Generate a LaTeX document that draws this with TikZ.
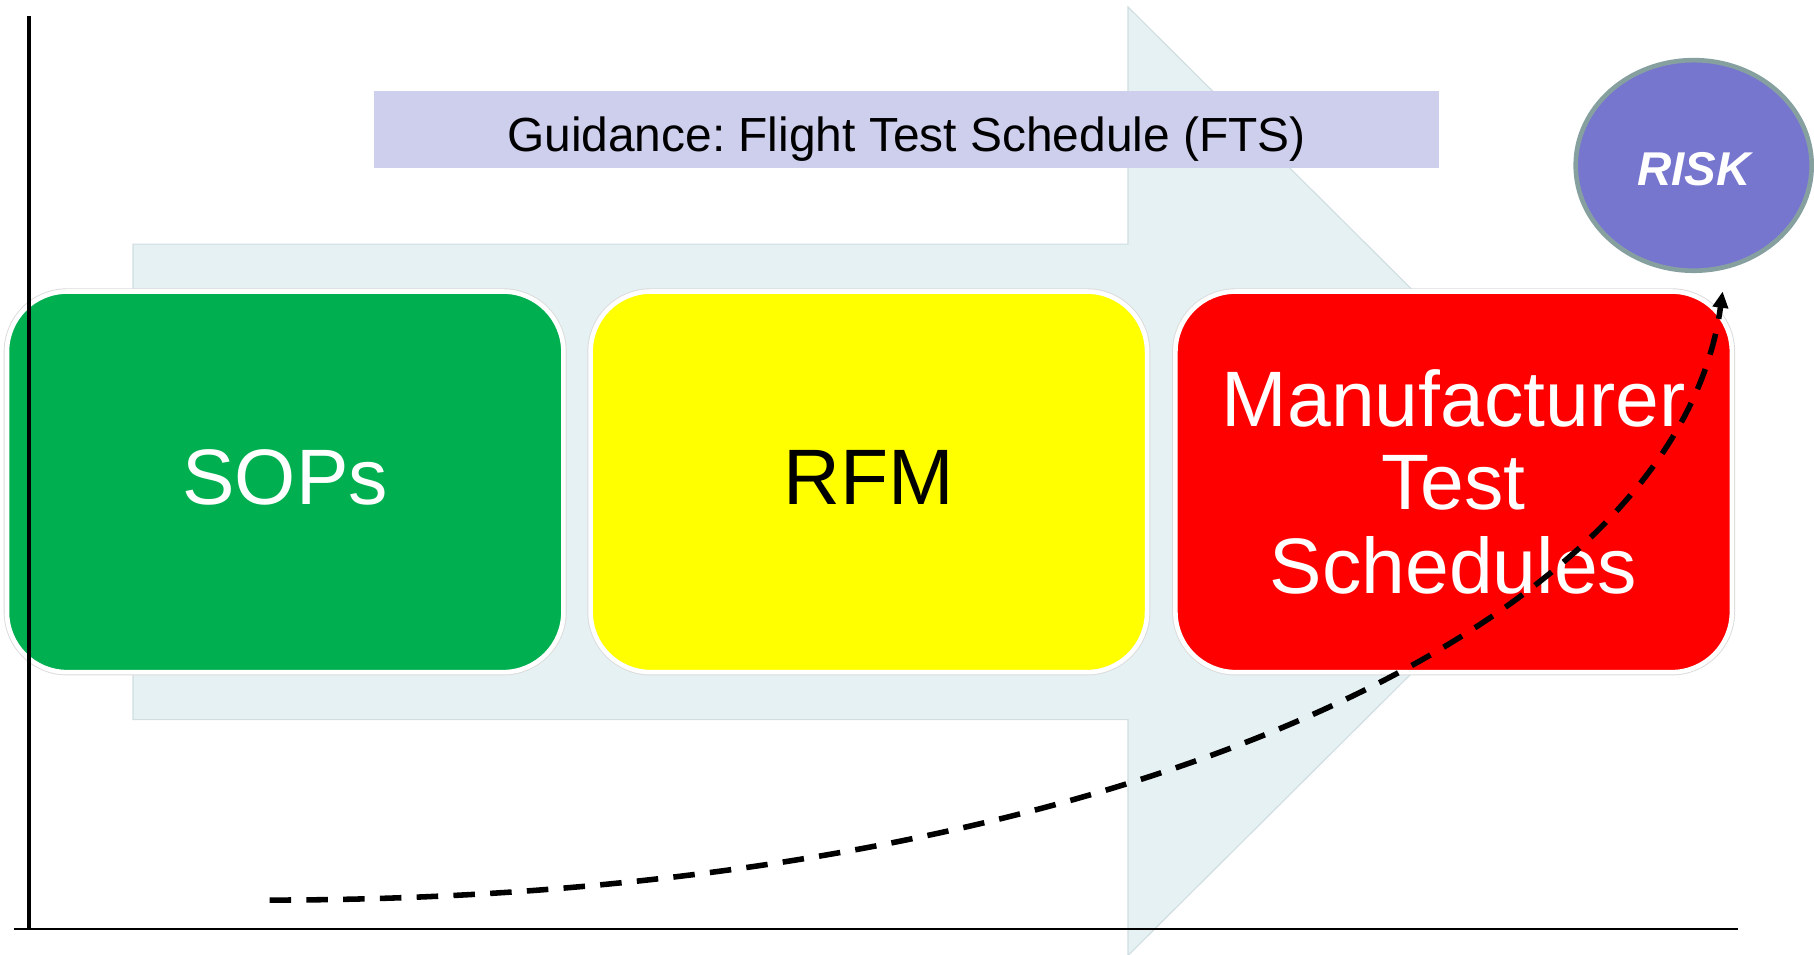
\documentclass[tikz,border=0pt]{standalone}
\usepackage{fontspec}
\setmainfont{Liberation Sans}
\usetikzlibrary{shapes.geometric,arrows.meta}
\frenchspacing

\definecolor{arrowfill}{RGB}{230,241,243}
\definecolor{arrowedge}{RGB}{208,222,226}
\definecolor{bannerfill}{RGB}{206,206,237}
\definecolor{sopgreen}{RGB}{0,175,80}
\definecolor{rfmyellow}{RGB}{255,255,0}
\definecolor{mtsred}{RGB}{255,0,0}
\definecolor{riskfill}{RGB}{119,118,207}
\definecolor{riskedge}{RGB}{134,160,160}

\begin{document}
\begin{tikzpicture}[x=0.5pt,y=-0.5pt,
  stagebox/.style={rectangle, rounded corners=26pt, inner sep=0pt,
    minimum width=240.5pt, minimum height=164.5pt,
    draw=white, line width=2pt,
    preaction={draw=black!14, line width=2.8pt},
    font=\fontsize{34}{36}\selectfont, align=center},
  oneline/.style={text height=24pt, text depth=4pt},
  banner/.style={rectangle, fill=bannerfill, inner sep=0pt,
    minimum width=460pt, minimum height=33pt},
  bannertext/.style={font=\fontsize{20.7}{24}\selectfont, inner sep=0pt},
  riskblob/.style={ellipse, fill=riskfill, draw=riskedge, line width=2pt,
    inner sep=0pt, minimum width=102pt, minimum height=91pt,
    text=white, font=\fontsize{20.5}{24}\selectfont\bfseries\itshape,
    text height=17pt, text depth=0pt},
  axisline/.style={draw=black, line width=0.9pt},
  riskcurve/.style={draw=black, line width=2.4pt,
    dash pattern=on 9.3pt off 6.6pt,
    -{Triangle[length=7pt,width=6.5pt]}}
]
\useasboundingbox (0,0) rectangle (1568,825);

% broad process arrow in the background
\path[fill=arrowfill, draw=arrowedge, line width=0.5pt]
  (115,211) -- (975,211) -- (975,6) -- (1387,416) -- (975,826)
  -- (975,622) -- (115,622) -- cycle;

% guidance banner
\node[banner] (guide) at (783.5,112) {};
\node[bannertext, anchor=base] (guidetext) at ([yshift=-9.5pt]guide.center)
  {Guidance: Flight Test Schedule (FTS)};

% the three stages
\node[stagebox, oneline, fill=sopgreen, text=white] (sops) at (246.5,416.5) {SOPs};
\node[stagebox, oneline, fill=rfmyellow, text=black] (rfm) at (751,416.5) {RFM};
\node[stagebox, fill=mtsred, text=white] (mts) at (1256.5,416.5)
  {Manufacturer\\Test\\Schedules};

% risk bubble
\node[riskblob] (risk) at (1464,143) {RISK};

% axes
\coordinate (ytop) at (25,14);
\coordinate (ybot) at (25,804);
\coordinate (xleft) at (12,803);
\coordinate (xright) at (1502,803);
\draw[axisline] (xleft) -- (xright);
\draw[draw=black, line width=1.75pt] (ytop) -- (ybot);

% rising risk curve
\coordinate (cstart) at (233,778);
\coordinate (cend) at (1489,252);
\draw[riskcurve] (cstart) .. controls (933,778) and (1448,552) .. (cend);
\end{tikzpicture}
\end{document}
